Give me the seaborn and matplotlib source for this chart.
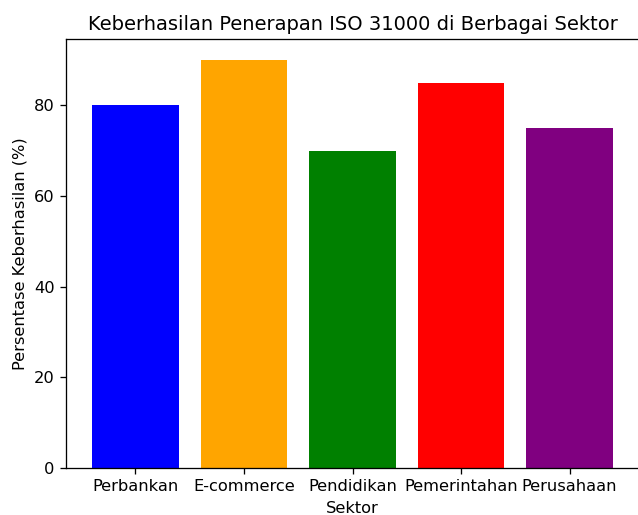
import matplotlib
matplotlib.use('Agg')
import matplotlib.pyplot as plt
import seaborn as sns

# data
sektor = ['Perbankan', 'E-commerce', 'Pendidikan', 'Pemerintahan', 'Perusahaan']
keberhasilan = [80, 90, 70, 85, 75]
warna = ['blue', 'orange', 'green', 'red', 'purple']

# the reference looks rendered at a slightly larger scale
k = 1.167
plt.rcParams['font.size'] = 10 * k
plt.rcParams['axes.titlesize'] = 12 * k
plt.rcParams['axes.linewidth'] = 0.8 * k
plt.rcParams['xtick.major.size'] = 3.5 * k
plt.rcParams['ytick.major.size'] = 3.5 * k
plt.rcParams['xtick.major.width'] = 0.8 * k
plt.rcParams['ytick.major.width'] = 0.8 * k
plt.rcParams['xtick.major.pad'] = 3.5 * k
plt.rcParams['ytick.major.pad'] = 3.5 * k
plt.rcParams['axes.titlepad'] = 6 * k
plt.rcParams['axes.labelpad'] = 4 * k

fig = plt.figure(figsize=(6.38, 5.15), dpi=100)
ax = fig.add_axes([66 / 638, 1 - 468 / 515, 573 / 638, (468 - 39.5) / 515])

sns.barplot(x=sektor, y=keberhasilan, hue=sektor, palette=warna,
            saturation=1, width=0.8, legend=False, ax=ax)

ax.set_xlim(-0.64, 4.64)
ax.set_ylim(0, 94.5)
ax.set_title('Keberhasilan Penerapan ISO 31000 di Berbagai Sektor')
ax.set_xlabel('Sektor')
ax.set_ylabel('Persentase Keberhasilan (%)')

plt.savefig('out.png', dpi=100)
